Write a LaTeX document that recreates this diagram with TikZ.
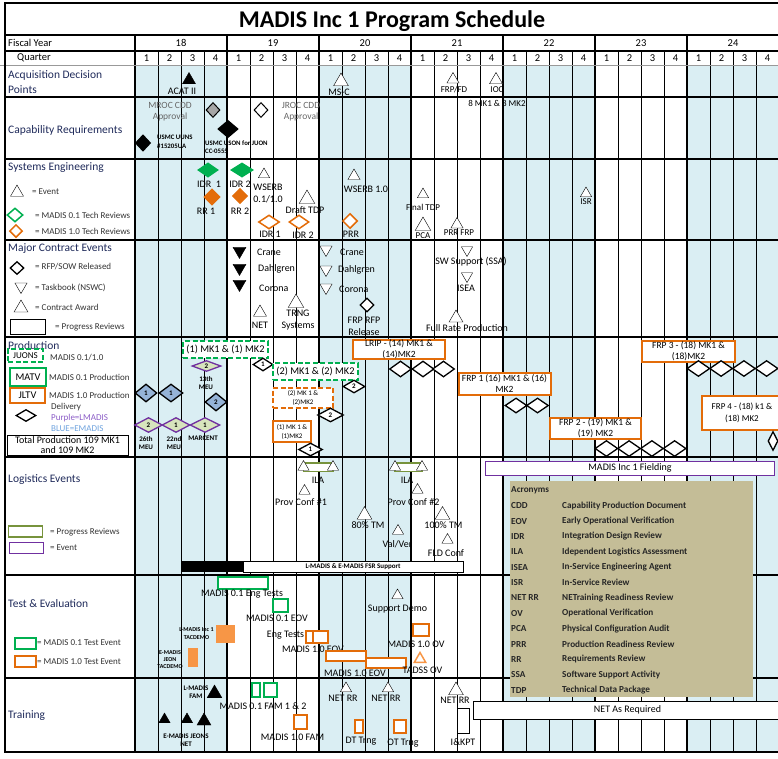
\documentclass[tikz,border=0pt]{standalone}
\usepackage{fontspec}
\setmainfont{Carlito}
\usepackage{xcolor}
\usepackage{tikz}
\usetikzlibrary{shapes.geometric}

\definecolor{qshade}{HTML}{DAEEF3}
\definecolor{navy}{HTML}{1F2A5A}
\definecolor{mgreen}{HTML}{00B050}
\definecolor{morange}{HTML}{E36C09}
\definecolor{lorange}{HTML}{F79646}
\definecolor{mpurple}{HTML}{7030A0}
\definecolor{lpurple}{HTML}{8A5BC6}
\definecolor{molive}{HTML}{77933C}
\definecolor{mtan}{HTML}{C4BD97}
\definecolor{eblue}{HTML}{95B3D7}
\definecolor{lblue}{HTML}{6FA3DE}
\definecolor{lgreen}{HTML}{D7E4BD}

\begin{document}
\begin{tikzpicture}[x=1pt, y=-1pt,
  every node/.style={inner sep=0pt},
  hdr/.style={font=\fontsize{10.5}{11}\selectfont},
  lbl/.style={font=\fontsize{10}{11}\selectfont, align=center},
  lbltwo/.style={font=\fontsize{10}{12}\selectfont, align=center},
  big/.style={font=\fontsize{10.3}{11}\selectfont, align=center},
  sml/.style={font=\fontsize{9}{10}\selectfont, align=center},
  bx/.style={font=\fontsize{7}{9}\selectfont, align=center},
  frptxt/.style={font=\fontsize{9.5}{11}\selectfont, align=center},
  tny/.style={font=\fontsize{7}{8.5}\selectfont\bfseries, align=center},
  key/.style={font=\fontsize{9}{10}\selectfont, text=black!80, anchor=west},
  rowname/.style={font=\fontsize{11.5}{15}\selectfont, text=navy, anchor=west, align=left},
  acr/.style={font=\fontsize{9.2}{10}\selectfont\bfseries, text=black!85, anchor=west},
  sz/.style 2 args={minimum width=#1, minimum height=#2},
  tri/.style={draw, fill=white, regular polygon, regular polygon sides=3, minimum size=#1},
  tri/.default=15,
  btri/.style={tri=#1, fill=black},
  btri/.default=15,
  dtri/.style={tri=#1, shape border rotate=180},
  dtri/.default=15,
  dm/.style args={#1x#2}{draw, line width=1.3pt, fill=white, diamond, minimum width=#1, minimum height=#2, font=\fontsize{7}{7}\selectfont\bfseries},
  gbox/.style={draw=mgreen, line width=2pt, fill=white},
  gdash/.style={gbox, dash pattern=on 5pt off 2.5pt},
  obox/.style={draw=morange, line width=2pt, fill=white},
  odash/.style={obox, dash pattern=on 5pt off 2.5pt},
  ilabar/.style={draw=molive, line width=1.5pt, fill=white}
]
\useasboundingbox (0,0) rectangle (778,758);

\foreach \x in {135,319,503,687}
  \fill[qshade] (\x,66) rectangle ++(92,686);
\foreach \i in {1,...,27}
  \draw[line width=0.8pt] (135+23*\i,51) -- (135+23*\i,752);
\foreach \i in {0,4,...,24}
  \draw[line width=1.8pt] (135+23*\i,35) -- (135+23*\i,752);
\draw[line width=2pt] (4,3) -- (778,3);
\draw[line width=1.8pt] (5,35) -- (778,35);
\draw[line width=1.2pt] (5,51) -- (778,51);
\draw[black!40, line width=0.8pt] (0,65.5) -- (778,65.5);
\foreach \y in {97,159,240,337,457,575,678,752}
  \draw[line width=1.8pt] (5,\y) -- (778,\y);
\draw[line width=2pt] (5,3) -- (5,753);

\node[font=\fontsize{24}{26}\selectfont\bfseries] (title) at (392,21) {MADIS Inc 1 Program Schedule};
\node[hdr, anchor=west] (fy) at (8,43) {Fiscal Year};
\node[hdr, anchor=west] (qtr) at (17,58) {Quarter};
\foreach \yr [count=\i from 0] in {18,...,24}
  \node[hdr] (fy\yr) at (181+92*\i,43) {\yr};
\foreach \i in {0,...,27}{
  \pgfmathtruncatemacro\q{mod(\i,4)+1}
  \node[hdr] (q\i) at (146.5+23*\i,58) {\q};
}

\node[rowname] (adp) at (8,82) {Acquisition Decision\\Points};
\node[rowname] (capreq) at (8,130) {Capability Requirements};
\node[rowname] (syseng) at (8,168) {Systems Engineering};
\node[rowname] (mce) at (8,249) {Major Contract Events};
\node[rowname] (prod) at (8,346) {Production};
\node[rowname] (logev) at (8,480) {Logistics Events};
\node[rowname] (tande) at (8,604) {Test \& Evaluation};
\node[rowname] (trng) at (8,716) {Training};

\node[btri] (acat) at (189,80) {};
\node[lbl] (acatl) at (182,91) {ACAT II};
\node[tri=17] (msc) at (341,81.5) {};
\node[lbl] (mscl) at (339,92) {MS-C};
\node[tri=14] (frpfd) at (453,79.5) {};
\node[sml] (frpfdl) at (454,90) {FRP/FD};
\node[tri] (ioc) at (496,80) {};
\node[sml] (iocl) at (497,90) {IOC};
\node[sml] (mkeight) at (497,103) {8 MK1 \& 8 MK2};

\node[lbl, text=black!60, font=\fontsize{9.5}{11}\selectfont] (mroc) at (170,112) {MROC CDD\\Approval};
\node[lbl, text=black!60, font=\fontsize{9.5}{11}\selectfont] (jroc) at (301,112) {JROC CDD\\Approval};
\node[dm=14x15, fill=black!35, line width=1pt] (mrocd) at (213,110) {};
\node[dm=14x15, line width=1pt] (jrocd) at (261,110) {};
\node[tny, font=\fontsize{6.8}{9.5}\selectfont\bfseries, align=left, anchor=west] (uuns) at (157,142) {USMC UUNS\\\#15205UA};
\node[tny, font=\fontsize{6.8}{8.5}\selectfont\bfseries, align=left, anchor=west] (uson) at (205,147) {USMC USON for JUON\\CC-0555};
\node[dm=20x17, fill=black] (juond) at (228,129) {};
\node[dm=15x16, fill=black] (uunsd) at (143,143) {};

\node[tri] (evk) at (17,192.5) {};
\node[key] at (32,192) {= Event};
\node[dm=16x14, draw=mgreen, line width=1.5pt] (gk) at (15,215) {};
\node[key] at (35,215) {= MADIS 0.1 Tech Reviews};
\node[dm=13x13, draw=morange, line width=1.5pt] (ok) at (16,231) {};
\node[key] at (35,231) {= MADIS 1.0 Tech Reviews};
\node[dm=20x14, draw=mgreen, fill=mgreen] (idrg1) at (208,170) {};
\node[lbl] at (209,184) {IDR\ \ 1};
\node[dm=22x14, draw=mgreen, fill=mgreen] (idrg2) at (242,170) {};
\node[lbl] at (240,184) {IDR 2};
\node[dm=16x16, draw=morange, fill=morange] (rr1) at (212,197) {};
\node[lbl] at (206,211) {RR 1};
\node[dm=15x15, draw=morange, fill=morange] (rr2) at (240,196) {};
\node[lbl] at (240,211) {RR 2};
\node[tri=13] (wserb1) at (264,174.5) {};
\node[lbltwo] at (268,193) {WSERB\\0.1/1.0};
\node[tri=18] (dtdp) at (307,199) {};
\node[lbl] at (305,210) {Draft TDP};
\node[dm=21x14, draw=morange, line width=1.5pt] (idro1) at (269,222) {};
\node[lbl] at (270,234) {IDR 1};
\node[dm=20x14, draw=morange, line width=1.5pt] (idro2) at (299,222) {};
\node[lbl] at (303,235) {IDR 2};
\node[tri=14] (wserb2) at (354,176) {};
\node[lbl] at (366,189) {WSERB 1.0};
\node[dm=15x15, draw=morange, line width=1.5pt] (prr) at (350,221) {};
\node[lbl] at (351,234) {PRR};
\node[tri=13] (ftdp) at (423,194.5) {};
\node[sml] at (423,207) {Final TDP};
\node[tri=18] (pca) at (423,226) {};
\node[sml] at (423,235.5) {PCA};
\node[tri=14] (prrfrp) at (457,224.5) {};
\node[sml] at (459,233) {PRR FRP};
\node[tri=13] (isr) at (586,193.5) {};
\node[sml] at (586,202) {ISR};

\node[dm=14x13] (rfpk) at (17,268) {};
\node[key] at (35,267) {= RFP/SOW Released};
\node[dtri=14] (tbk) at (21,286.5) {};
\node[key] at (35,288) {= Taskbook (NSWC)};
\node[tri=16] (cak) at (21,308) {};
\node[key] at (35,307) {= Contract Award};
\node[draw, sz={35}{15}] (prk) at (27.5,326.5) {};
\node[key] at (55,327) {= Progress Reviews};
\node[dtri, fill=black] (cranea) at (239.5,251) {};
\node[dtri, fill=black] (dahla) at (239.5,268) {};
\node[dtri, fill=black] (cora) at (239.5,284) {};
\node[lbl, anchor=west] at (257,252) {Crane};
\node[lbl, anchor=west] at (258,269) {Dahlgren};
\node[lbl, anchor=west] at (259,288) {Corona};
\node[dtri=14] (craneb) at (326,249.5) {};
\node[dtri=14] (dahlb) at (326,269.5) {};
\node[dtri=14] (corb) at (326,287.5) {};
\node[lbl, anchor=west] at (340,252) {Crane};
\node[lbl, anchor=west] at (338,270) {Dahlgren};
\node[lbl, anchor=west] at (339,289) {Corona};
\node[tri] (net) at (260,312.5) {};
\node[lbl] at (260,325) {NET};
\node[tri=18] (trngsys) at (296,303) {};
\node[lbltwo] at (298,320) {TRNG\\Systems};
\node[dm=14x14] (frprfp) at (367,305) {};
\node[lbltwo] at (364,326) {FRP RFP\\Release};
\node[dtri=13] (ssa) at (467,250) {};
\node[lbl] at (471,262) {SW Support (SSA)};
\node[dtri=13] (isea) at (467,276) {};
\node[lbl] at (466,288) {ISEA};
\node[tri=16] (frpc) at (456,318) {};
\node[lbl] at (467,328) {Full Rate Production};

\node[gdash, sz={35}{13}, sml] (juons) at (25.5,355.5) {JUONS};
\node[key] at (50,358) {MADIS 0.1/1.0};
\node[gbox, sz={36}{18}, big] (matv) at (28,377) {MATV};
\node[key] at (49,377) {MADIS 0.1 Production};
\node[obox, sz={35}{15}, big] (jltv) at (27.5,395.5) {JLTV};
\node[key] at (49,395) {MADIS 1.0 Production};
\node[key] at (51,407) {Delivery};
\node[dm=20x12] (delk) at (26,415.5) {};
\node[key, text=lpurple] at (51,418) {Purple=LMADIS};
\node[key, text=lblue] at (51,429) {BLUE=EMADIS};
\node[draw, fill=white, sz={121}{20}, font=\fontsize{10}{10.5}\selectfont, align=center] (total) at (67.5,445) {Total Production 109 MK1\\and 109 MK2};

\node[dm=22x18, fill=eblue] (emeua) at (146,393) {1};
\node[dm=24x18, fill=eblue] (emeub) at (171,393) {1};
\node[dm=22x18, fill=eblue] (emar) at (216,402) {2};
\node[dm=28x15, draw=mpurple, fill=lgreen] (lmeua) at (148.5,425) {2};
\node[dm=28x15, draw=mpurple, fill=lgreen] (lmeub) at (176,425) {1};
\node[dm=30x15, draw=mpurple, fill=lgreen] (lmar) at (205,425) {1};
\node[dm=29x11, draw=mpurple, fill=lgreen] (lmeuc) at (206.5,366) {2};
\node[tny] at (146,443) {26th\\MEU};
\node[tny] at (174,443) {22nd\\MEU};
\node[tny] at (203,438) {MARCENT};
\node[tny] at (206,383) {13th\\MEU};

\node[gdash, sz={85}{17}, big] (juona) at (225.5,349.5) {(1) MK1 \& (1) MK2};
\node[dm=20x13] (dja) at (263,364.5) {1};
\node[gdash, sz={85}{17}, big] (juonb) at (315.5,371.5) {(2) MK1 \& (2) MK2};
\node[dm=22x13] (djb) at (354,386.5) {2};
\node[odash, sz={60}{20}, bx] (juonc) at (303,398) {(2) MK 1 \&\\(2)MK2};
\node[dm=26x14] (djc) at (330.5,415) {2};
\node[obox, sz={38}{21}, bx] (juond) at (292,431.5) {(1) MK 1 \&\\(1)MK2};
\node[dm=24x13] (djd) at (310.5,449.5) {1};

\node[obox, sz={92}{18}, frptxt] (lrip) at (399,349.5) {LRIP - (14) MK1 \&\\(14)MK2};
\foreach \x [count=\k] in {400.5,423,443.5}
  \node[dm=22x16] (dl\k) at (\x,369) {};
\node[obox, sz={92}{22}, frptxt] (frpa) at (504.5,384) {FRP 1 (16) MK1 \& (16)\\MK2};
\foreach \x [count=\k] in {516,537.5}
  \node[dm=22x15] (da\k) at (\x,405.5) {};
\node[obox, sz={91}{21}, frptxt] (frpb) at (595.5,428.5) {FRP 2 - (19) MK1 \&\\(19) MK2};
\foreach \x [count=\k] in {606.4,629.1,651.9,674.6}
  \node[dm=23x16] (db\k) at (\x,448.5) {};
\node[obox, sz={93}{21}, frptxt] (frpc) at (688.5,351) {FRP 3 - (18) MK1 \&\\(18)MK2};
\foreach \x [count=\k] in {698.4,721.1,743.9,766.6}
  \node[dm=23x16] (dc\k) at (\x,368.5) {};
\node[obox, sz={80}{34}, font=\fontsize{9}{12}\selectfont, align=center] (frpd) at (742,412.5) {FRP 4 - (18) k1 \&\\(18) MK2};
\node[dm=10x19] (dd1) at (773,441) {};

\node[draw=molive, line width=1.5pt, sz={34}{11}] (prkb) at (25.5,531.5) {};
\node[key] at (50,532) {= Progress Reviews};
\node[draw=mpurple, line width=1pt, sz={34}{11}] (evkb) at (26,547.5) {};
\node[key] at (50,548) {= Event};
\coordinate (ilaAl) at (303.5,467);
\coordinate (ilaAr) at (333,467);
\coordinate (ilaBl) at (395,467);
\coordinate (ilaBr) at (422,467);
\draw[ilabar] ([yshift=4pt]ilaAl) rectangle ([yshift=-4.5pt]ilaAr);
\draw[ilabar] ([yshift=4pt]ilaBl) rectangle ([yshift=-4.5pt]ilaBr);
\node[tri=13] (ilaa) at (ilaAl) {};
\node[tri=13] (ilab) at (ilaAr) {};
\node[tri=13] (ilac) at (ilaBl) {};
\node[tri=13] (ilad) at (ilaBr) {};
\node[lbl] at (318,480) {ILA};
\node[lbl] at (407,480) {ILA};
\node[tri=13] (provA) at (304.5,491) {};
\node[lbl] at (301,502) {Prov Conf \#1};
\node[tri=17] (tmA) at (364.5,515) {};
\node[lbl] at (368,525) {80\% TM};
\node[tri=13] (provB) at (417.5,490) {};
\node[lbl] at (413.5,502) {Prov Conf \#2};
\node[tri=17] (tmB) at (442.5,515) {};
\node[lbl] at (443.5,525) {100\% TM};
\node[tri=13] (valver) at (398,531) {};
\node[lbl] at (397.5,544) {Val/Ver};
\node[tri=13] (fldconf) at (447.5,540) {};
\node[lbl] at (446,553) {FLD Conf};
\fill (182,561) rectangle (243,572);
\node[draw, fill=white, sz={220}{11}, tny] (fsr) at (353,566.5) {L-MADIS \& E-MADIS FSR Support};
\node[draw=mpurple, fill=white, sz={289}{14}, lbl] (field) at (630,468) {MADIS Inc 1 Fielding};

\node[fill=mtan, sz={243}{216}, anchor=north west] (acro) at (510,481) {};
\node[acr] at (511,490) {Acronyms};
\foreach \ab/\ds [count=\k from 0] in {CDD/Capability Production Document, EOV/Early Operational Verification, IDR/Integration Design Review, ILA/Idependent Logistics Assessment, ISEA/In-Service Engineering Agent, ISR/In-Service Review, NET RR/NETraining Readiness Review, OV/Operational Verification, PCA/Physical Configuration Audit, PRR/Production Readiness Review, RR/Requirements Review, SSA/Software Support Activity, TDP/Technical Data Package}{
  \node[acr] (ab\k) at (511,505.7+15.37*\k) {\ab};
  \node[acr] (ds\k) at (562,505.7+15.37*\k) {\ds};
}

\node[gbox, sz={21}{11}] (gkb) at (25.5,643) {};
\node[key] at (37,643) {= MADIS 0.1 Test Event};
\node[obox, sz={21}{11}] (okb) at (25.5,661.5) {};
\node[key] at (37,662) {= MADIS 1.0 Test Event};
\node[gbox, sz={50}{12}] (engt) at (243,583) {};
\node[lbl] at (242,594) {MADIS 0.1 Eng Tests};
\node[gbox, sz={15}{13}] (eova) at (280.5,605.5) {};
\node[lbl] at (277,618) {MADIS 0.1 EOV};
\node[fill=lorange, sz={19}{18}] (ltac) at (225.5,634) {};
\node[tny, font=\fontsize{6}{8}\selectfont\bfseries] at (196.5,634) {L-MADIS Inc 1\\TACDEMO};
\node[fill=lorange, sz={10}{19}] (etac) at (193,657.5) {};
\node[tny, font=\fontsize{6}{7}\selectfont\bfseries] at (170,660) {E-MADIS\\JEON\\TACDEMO};
\node[lbl] at (285.5,635) {Eng Tests};
\node[obox, sz={7}{12}] (engta) at (309.5,637) {};
\node[obox, sz={15}{12}] (engtb) at (320.5,637) {};
\node[lbl] at (313,649) {MADIS 1.0 EOV};
\node[obox, sz={40}{10}] (eovb) at (346,656) {};
\node[obox, sz={40}{10}] (eovc) at (386,663) {};
\node[lbl] at (355,673) {MADIS 1.0 EOV};
\node[tri=13] (sdemo) at (397.5,595.5) {};
\node[lbl] at (397.5,609) {Support Demo};
\node[obox, sz={16}{12}] (ovten) at (421,630) {};
\node[lbl] at (416,644) {MADIS 1.0 OV};
\node[tri=13, draw=lorange, line width=1.5pt] (tadss) at (420,659) {};
\node[lbl] at (422.5,670) {TADSS OV};

\node[tny] at (196,692) {L-MADIS\\FAM};
\node[btri=17] (lfam) at (214.5,693.5) {};
\node[btri=13] (eneta) at (164.5,719.5) {};
\node[btri=13] (enetb) at (187,719.5) {};
\node[btri=16] (enetc) at (204,721) {};
\node[tny] at (186,740) {E-MADIS JEONS\\NET};
\node[gbox, sz={8}{14}] (fama) at (256,690) {};
\node[gbox, sz={13}{14}] (famb) at (270.5,690) {};
\node[lbl] at (263,706) {MADIS 0.1 FAM 1 \& 2};
\node[obox, sz={13}{14}] (famc) at (300.5,722) {};
\node[lbl] at (292.5,737) {MADIS 1.0 FAM};
\node[tri=13] (netrra) at (346,688.5) {};
\node[lbl] at (343,698) {NET RR};
\node[obox, sz={8}{13}] (dttr) at (358.5,726.5) {};
\node[lbl] at (361,741) {DT Trng};
\node[tri=13] (netrrb) at (388,688.5) {};
\node[lbl] at (386,698) {NET RR};
\node[obox, sz={12}{13}] (ottr) at (399.5,726.5) {};
\node[lbl] at (403,743) {OT Trng};
\node[tri=17] (netrrc) at (456,690.5) {};
\node[lbl] at (455,700) {NET RR};
\node[draw, fill=white, sz={12}{25}] (ikpt) at (463,720.5) {};
\node[lbl] at (463,742) {I\&KPT};
\node[draw, fill=white, sz={309}{18}, lbl] (netreq) at (627.5,710) {NET As Required};
\end{tikzpicture}
\end{document}
